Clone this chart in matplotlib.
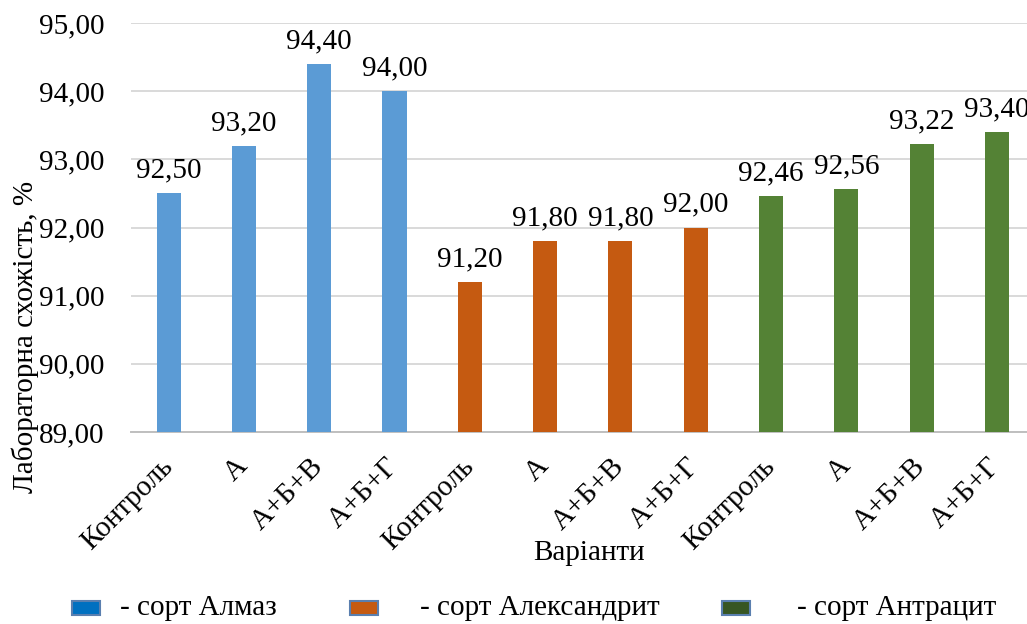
import matplotlib
matplotlib.use("Agg")
import matplotlib.pyplot as plt
from matplotlib.patches import Rectangle

plt.rcParams["font.family"] = ["Liberation Serif", "DejaVu Serif"]

# Varieties and treatment variants
varieties = ["сорт Алмаз", "сорт Александрит", "сорт Антрацит"]
variants = ["Контроль", "А", "А+Б+В", "А+Б+Г"]
almaz = [92.50, 93.20, 94.40, 94.00]
aleksandryt = [91.20, 91.80, 91.80, 92.00]
antratsyt = [92.46, 92.56, 93.22, 93.40]
yticks = [89, 90, 91, 92, 93, 94, 95]

bar_colors = ["#5B9BD5", "#C55A11", "#548235"]
legend_colors = ["#0070C0", "#C55A11", "#375623"]

series = [almaz, aleksandryt, antratsyt]
labels = variants * len(series)
values = [v for s in series for v in s]
colors = [c for c, s in zip(bar_colors, series) for _ in s]
xpos = list(range(len(values)))

FS = 21

fig = plt.figure(figsize=(10.27, 6.24), dpi=100)
ax = fig.add_axes([131 / 1027, 192 / 624, 896 / 1027, 409 / 624])

ax.bar(xpos, [v - yticks[0] for v in values], bottom=yticks[0],
       width=0.32, color=colors, zorder=3)

for x, v in zip(xpos, values):
    ax.annotate(f"{v:.2f}".replace(".", ","), xy=(x, v), xytext=(0, 7),
                textcoords="offset points", ha="center", va="bottom",
                fontsize=FS, color="black")

ax.set_xlim(-0.5, 11.4)
ax.set_ylim(yticks[0], yticks[-1])
ax.set_yticks(yticks)
ax.set_yticklabels([f"{t:.2f}".replace(".", ",") for t in yticks], fontsize=FS)
ax.set_xticks(xpos)
ax.set_xticklabels(labels, rotation=45, ha="right", va="center",
                   rotation_mode="anchor", fontsize=FS)
ax.tick_params(axis="both", length=0)
ax.tick_params(axis="y", pad=19)
ax.tick_params(axis="x", pad=22)

ax.yaxis.grid(True, color="#D9D9D9", linewidth=1.4, zorder=0)
ax.set_axisbelow(True)
for side in ["left", "right", "top"]:
    ax.spines[side].set_visible(False)
ax.spines["bottom"].set_color("#BFBFBF")
ax.spines["bottom"].set_linewidth(1.4)

fig.text(25 / 1027, 1 - 337 / 624, "Лабораторна схожість, %", rotation=90,
         ha="center", va="center", fontsize=FS)
fig.text(589 / 1027, 1 - 553 / 624, "Варіанти", ha="center", va="center",
         fontsize=FS)

# Legend row under the chart
patch_x = [72, 350, 722]
text_x = [120, 420, 797]
ly = 608
for px, tx, col, name in zip(patch_x, text_x, legend_colors, varieties):
    fig.patches.append(Rectangle((px / 1027, 1 - (ly + 7) / 624), 28 / 1027,
                                 14 / 624, transform=fig.transFigure,
                                 facecolor=col, edgecolor="#5A7FAF",
                                 linewidth=1.5))
    fig.text(tx / 1027, 1 - ly / 624, "- " + name, ha="left", va="center",
             fontsize=FS)

fig.savefig("out.png", dpi=100)
